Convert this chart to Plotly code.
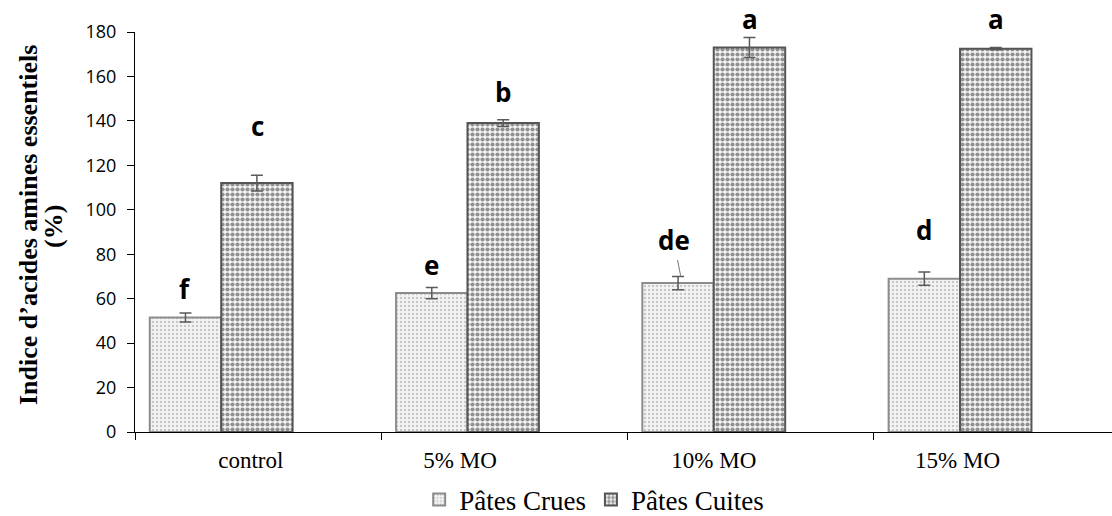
import plotly.graph_objects as go

categories = ["control", "5% MO", "10% MO", "15% MO"]
crues = [51.5, 62.5, 67.0, 69.0]
crues_err = [2.0, 2.5, 3.0, 3.0]
cuites = [112.0, 139.0, 173.0, 172.5]
cuites_err = [3.5, 1.5, 4.5, 0.5]
letters_crues = ["f", "e", "de", "d"]
letters_cuites = ["c", "b", "a", "a"]
y_ticks = [0, 20, 40, 60, 80, 100, 120, 140, 160, 180]
y_title_lines = ["Indice d’acides amines essentiels", "(%)"]

# layout helpers (positions, not data)
y_max = 180
px_per_unit = 400 / 180
x_range = [-0.35, 3.617]
boundary_ticks = [-0.35, 0.65, 1.65, 2.65]
label_pos = [0.12, 0.97, 2.0, 2.99]
letter_y_crues = [64.5, 75.0, 85.5, 91.0]
letter_y_cuites = [137.5, 153.0, 186.0, 186.0]

serif = "Liberation Serif, Times New Roman, serif"

fig = go.Figure()
fig.add_trace(go.Bar(
    name="Pâtes Crues", x=categories, y=crues,
    error_y=dict(type="data", array=crues_err, color="#5a5a5a", thickness=1.5, width=6),
    marker=dict(color="#f2f2f2", line=dict(color="#8c8c8c", width=2),
                pattern=dict(shape=".", fgcolor="#9c9c9c", bgcolor="#f4f4f4", size=4, solidity=0.3)),
))
fig.add_trace(go.Bar(
    name="Pâtes Cuites", x=categories, y=cuites,
    error_y=dict(type="data", array=cuites_err, color="#5a5a5a", thickness=1.5, width=6),
    marker=dict(color="#f0f0f0", line=dict(color="#555555", width=2),
                pattern=dict(shape=".", fgcolor="#2e2e2e", bgcolor="#f4f4f4", size=5, solidity=0.55)),
))

# invisible traces to activate the overlay axes
fig.add_trace(go.Scatter(x=[x_range[0]], y=[0], xaxis="x2", mode="markers",
                         marker=dict(opacity=0), showlegend=False, hoverinfo="skip"))
fig.add_trace(go.Scatter(x=[x_range[0]], y=[0], xaxis="x3", mode="markers",
                         marker=dict(opacity=0), showlegend=False, hoverinfo="skip"))

letter_font = dict(family="Open Sans", size=26, color="#000000")


def add_letter(cat, ly, text, xshift):
    y = min(ly, y_max)
    fig.add_annotation(x=cat, y=y, xref="x", yref="y", xshift=xshift,
                       yshift=(ly - y) * px_per_unit,
                       text="<b>%s</b>" % text, showarrow=False, font=letter_font)


for i, c in enumerate(categories):
    if letters_crues[i] == "de":
        fig.add_annotation(x=c, y=crues[i] + crues_err[i], xref="x", yref="y", xshift=-33,
                           text="<b>de</b>", showarrow=True, arrowhead=0, arrowwidth=1,
                           arrowcolor="#777777", ax=-7, ay=-36, standoff=0, font=letter_font)
    else:
        add_letter(c, letter_y_crues[i], letters_crues[i], -36)
    add_letter(c, letter_y_cuites[i], letters_cuites[i], 36)

# y-axis title as two rotated lines
for line, xs, ys in zip(y_title_lines, [-107, -82], [7, 5]):
    fig.add_annotation(x=0, y=0.5, xref="paper", yref="paper", xanchor="center", yanchor="middle",
                       xshift=xs, yshift=ys, textangle=-90, showarrow=False,
                       text="<b>%s</b>" % line,
                       font=dict(family=serif, size=26, color="#000000"))

fig.update_layout(
    width=1112, height=516,
    margin=dict(l=135, r=0, t=32, b=84, autoexpand=False),
    paper_bgcolor="white", plot_bgcolor="white",
    barmode="group", bargap=0.42, bargroupgap=0,
    showlegend=True,
    legend=dict(orientation="h", x=0.47, xanchor="center", y=-0.17, yanchor="middle",
                font=dict(family=serif, size=27, color="#000000"),
                itemwidth=30, traceorder="normal"),
    xaxis=dict(type="category", range=x_range, showline=True, linecolor="#000000", linewidth=1.2,
               ticks="", showticklabels=False, showgrid=False, zeroline=False, automargin=False),
    xaxis2=dict(overlaying="x", anchor="y", side="bottom", range=x_range, tickvals=boundary_ticks,
                ticks="outside", ticklen=7, tickcolor="#000000", showticklabels=False,
                showgrid=False, zeroline=False, showline=False, automargin=False),
    xaxis3=dict(overlaying="x", anchor="y", side="bottom", range=x_range, tickvals=label_pos,
                ticktext=categories, ticks="", showgrid=False, zeroline=False, showline=False,
                ticklabelstandoff=12, automargin=False,
                tickfont=dict(family=serif, size=23, color="#000000")),
    yaxis=dict(range=[0, y_max], tickvals=y_ticks, ticks="outside", ticklen=7, tickcolor="#000000",
               showline=True, linecolor="#000000", linewidth=1, showgrid=False, zeroline=False,
               automargin=False, ticklabelstandoff=7,
               tickfont=dict(family="Open Sans", size=18, color="#000000")),
)

fig.write_html("out.html")
